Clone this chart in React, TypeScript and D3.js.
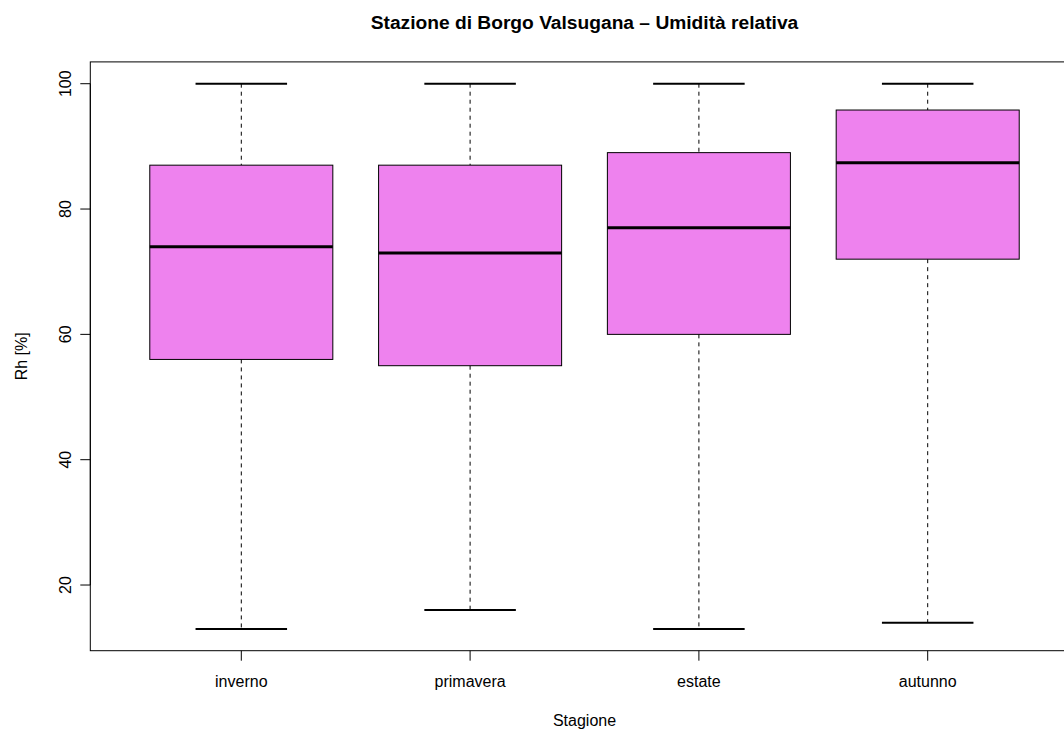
import React from 'react';
import * as d3 from 'd3';

const seasons = ['inverno', 'primavera', 'estate', 'autunno'];
const whiskerLow = [13, 16, 13, 14];
const q1 = [56, 55, 60, 72];
const medians = [74, 73, 77, 87.4];
const q3 = [87, 87, 89, 95.8];
const whiskerHigh = [100, 100, 100, 100];
const yTicks = [20, 40, 60, 80, 100];

const W = 1064;
const H = 731;
const font = 'Liberation Sans, Arial, Helvetica, sans-serif';

const App: React.FC = () => {
    // R style extended ranges: 0.5..4.5 and 13..100 plus 4%
    const x = d3.scaleLinear().domain([0.34, 4.66]).range([90.3, 1078.7]);
    const y = d3.scaleLinear().domain([9.52, 103.48]).range([650.7, 61.9]);
    const boxHalf = x(1.4) - x(1);
    const capHalf = x(1.2) - x(1);

    const left = x(0.34);
    const right = x(4.66);
    const top = y(103.48);
    const bottom = y(9.52);
    const cx = (left + right) / 2;

    return (
        <svg width={W} height={H} style={{ position: 'absolute', left: 0, top: 0, background: '#fff' }}
             fontFamily={font}>
            <text x={cx} y={29} textAnchor="middle" fontWeight="bold" fontSize={19.2}>
                Stazione di Borgo Valsugana – Umidità relativa
            </text>

            {seasons.map((s, i) => {
                const c = x(i + 1);
                return (
                    <g key={s}>
                        {/* whiskers */}
                        <line x1={c} x2={c} y1={y(whiskerHigh[i])} y2={y(q3[i])}
                              stroke="#000" strokeWidth={1} strokeDasharray="4,4" />
                        <line x1={c} x2={c} y1={y(q1[i])} y2={y(whiskerLow[i])}
                              stroke="#000" strokeWidth={1} strokeDasharray="4,4" />
                        {/* staples */}
                        <line x1={c - capHalf} x2={c + capHalf} y1={y(whiskerHigh[i])} y2={y(whiskerHigh[i])}
                              stroke="#000" strokeWidth={2} />
                        <line x1={c - capHalf} x2={c + capHalf} y1={y(whiskerLow[i])} y2={y(whiskerLow[i])}
                              stroke="#000" strokeWidth={2} />
                        {/* box */}
                        <rect x={c - boxHalf} y={y(q3[i])} width={boxHalf * 2} height={y(q1[i]) - y(q3[i])}
                              fill="#EE82EE" stroke="#000" strokeWidth={1} />
                        <line x1={c - boxHalf} x2={c + boxHalf} y1={y(medians[i])} y2={y(medians[i])}
                              stroke="#000" strokeWidth={3} />
                    </g>
                );
            })}

            {/* frame */}
            <rect x={left} y={top} width={right - left} height={bottom - top}
                  fill="none" stroke="#000" strokeWidth={1} />

            {/* y axis */}
            <line x1={left} x2={left} y1={y(20)} y2={y(100)} stroke="#000" />
            {yTicks.map(t => (
                <g key={t}>
                    <line x1={left - 10} x2={left} y1={y(t)} y2={y(t)} stroke="#000" />
                    <text transform={`translate(${left - 19},${y(t)}) rotate(-90)`} textAnchor="middle"
                          fontSize={16}>{t}</text>
                </g>
            ))}

            {/* x axis */}
            {seasons.map((s, i) => (
                <g key={s}>
                    <line x1={x(i + 1)} x2={x(i + 1)} y1={bottom} y2={bottom + 10} stroke="#000" />
                    <text x={x(i + 1)} y={687} textAnchor="middle" fontSize={16}>{s}</text>
                </g>
            ))}

            <text x={cx} y={726} textAnchor="middle" fontSize={16}>Stagione</text>
            <text transform={`translate(27,${(top + bottom) / 2}) rotate(-90)`} textAnchor="middle"
                  fontSize={16}>Rh [%]</text>
        </svg>
    );
};

export default App;
